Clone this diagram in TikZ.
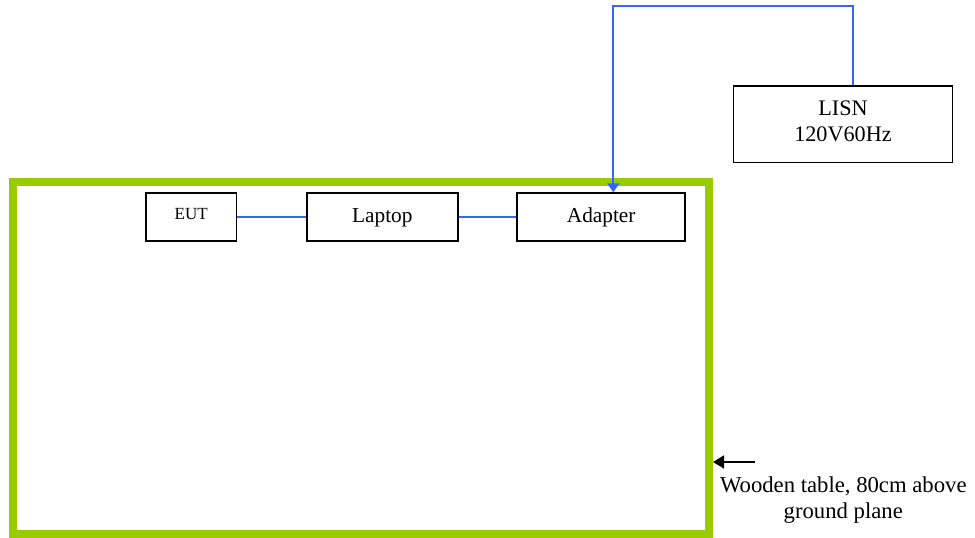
\documentclass[tikz,border=0pt]{standalone}
\usepackage{fontspec}
\setmainfont{Liberation Serif}
\usetikzlibrary{arrows.meta,calc}
\definecolor{tablegreen}{HTML}{99CC00}
\definecolor{wireblue}{HTML}{3366FF}
\tikzset{
  unitbox/.style={draw=black,line width=1.8pt,fill=white,inner sep=0pt,align=center,font=\fontsize{21.3}{26}\selectfont},
  wire/.style={draw=wireblue,line width=1.8pt},
  notetext/.style={inner sep=0pt,align=center,font=\fontsize{22.7}{26}\selectfont}
}
\begin{document}
\begin{tikzpicture}[x=1pt,y=-1pt]
\useasboundingbox (0,0) rectangle (975,538);
\fill[white] (0,0) rectangle (975,538);
\node[draw=tablegreen,line width=8pt,inner sep=0pt,minimum width=696pt,minimum height=352.5pt] (table) at (361,357.75) {};
\node[unitbox,minimum width=90.7pt,minimum height=48pt] (eut) at (191.2,217.2) {\raisebox{-2.1pt}[0pt][0pt]{\fontsize{17}{20}\selectfont EUT}};
\node[unitbox,minimum width=151pt,minimum height=48pt] (laptop) at (382.3,217.2) {\raisebox{-5.5pt}[0pt][0pt]{Laptop}};
\node[unitbox,minimum width=168pt,minimum height=48pt] (adapter) at (601.2,217.2) {\raisebox{-5.5pt}[0pt][0pt]{Adapter}};
\node[unitbox,minimum width=219pt,minimum height=76.7pt,font=\fontsize{22.2}{26}\selectfont] (lisn) at (843,124.2) {LISN\\120V60Hz\rule[-7pt]{0pt}{7pt}};
\draw[wire] (eut.east) -- (laptop.west);
\draw[wire] (laptop.east) -- (adapter.west);
\coordinate (lisnout) at ($(lisn.north)+(10.3,0)$);
\coordinate (adapterin) at ($(adapter.north)+(12.1,0)$);
\coordinate (wiretop) at (613.3,6);
\draw[wire,-{Triangle[length=9pt,width=12pt]}] (lisnout) |- (wiretop) -- (adapterin);
\coordinate (arrowtail) at (755,462);
\draw[black,line width=1.5pt,-{Triangle[length=11pt,width=13pt]}] (arrowtail) -- (table.east |- arrowtail);
\node[notetext] (note) at (843.3,500.3) {Wooden table, 80cm above\\ground plane};
\end{tikzpicture}
\end{document}
